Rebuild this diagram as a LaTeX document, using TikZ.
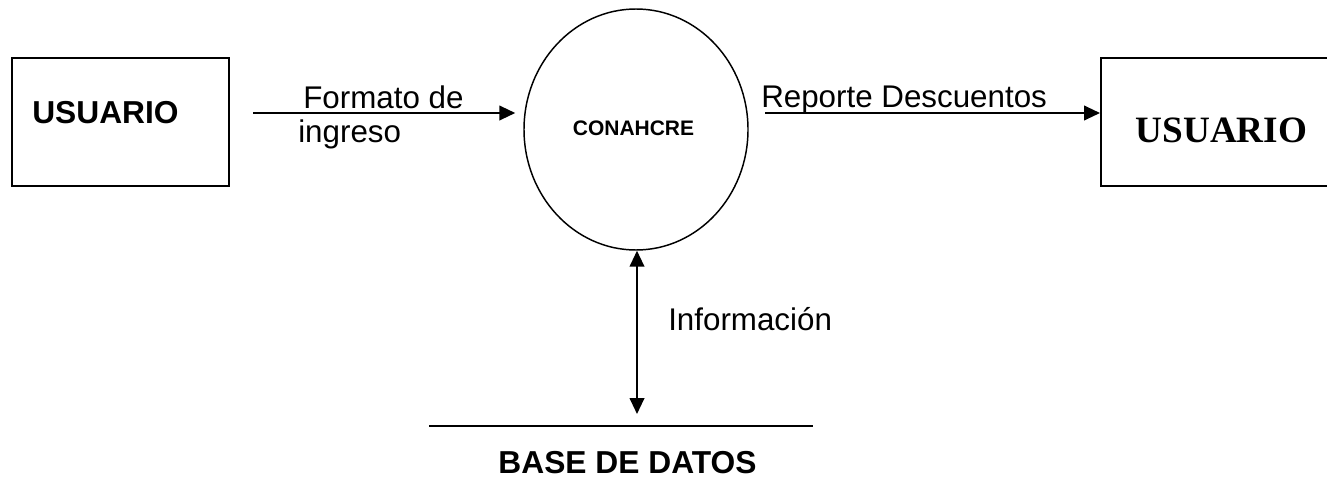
\documentclass[tikz,border=0pt]{standalone}
\usepackage{fontspec}
\setmainfont{Liberation Sans}
\newfontfamily\timesf{Liberation Serif}
\usetikzlibrary{shapes.geometric,arrows.meta}
\tikzset{
  entbox/.style={draw, line width=1.5pt, minimum width=162.75pt, minimum height=96pt, inner sep=0pt},
  proc/.style={draw, ellipse, line width=1.1pt, minimum width=168pt, minimum height=180.75pt, inner sep=0pt},
  arr/.style={line width=1.5pt, -{Triangle[length=12pt,width=11pt]}},
  darr/.style={line width=1.5pt, {Triangle[length=12pt,width=11pt]}-{Triangle[length=12pt,width=11pt]}},
  lbl/.style={inner sep=0pt, font=\fontsize{23.5}{28}\selectfont},
  blbl/.style={inner sep=0pt, font=\fontsize{23.8}{28}\selectfont\bfseries},
}
\begin{document}
\begin{tikzpicture}[x=0.75pt,y=-0.75pt]
\useasboundingbox (0,0) rectangle (1327,496);
\begin{scope}
\clip (0,0) rectangle (1327,496);
% entities
\node[entbox] (u1) at (120.5,122) {};
\node[blbl, anchor=base] (u1t) at (105.5,123) {USUARIO};
\node[entbox, minimum width=175.5pt] (u2) at (1218,122) {};
\node[inner sep=0pt, anchor=base, font=\fontsize{27.9}{33}\selectfont\timesf\bfseries] (u2t) at (1221.5,142) {USUARIO};
% process
\node[proc] (c) at (636,129.5) {};
\node[inner sep=0pt, anchor=base, font=\fontsize{15.75}{19}\selectfont\bfseries] (ct) at (633.5,135) {CONAHCRE};
% data store
\coordinate (dbL) at (429,426);
\coordinate (dbR) at (813,426);
\draw[line width=1.1pt] (dbL) -- (dbR);
\node[blbl, anchor=base] (db) at (627.5,473) {BASE DE DATOS};
\coordinate (dbtop) at (637,414);
% flows
\coordinate (fs) at (253,113);
\draw[arr, shorten >=6pt] (fs) -- (c.west |- fs);
\node[lbl, anchor=base west] (f1) at (303,108) {Formato de};
\node[lbl, anchor=base west] (f2) at (298,142) {ingreso};
\coordinate (rs) at (765,113);
\draw[arr] (rs) -- (u2.west |- rs);
\node[lbl, anchor=base west] (r1) at (761,107) {Reporte Descuentos};
\draw[darr] (dbtop) -- (dbtop |- c.south);
\node[lbl, anchor=base west] (inf) at (668,330) {Información};
\end{scope}
\end{tikzpicture}
\end{document}
